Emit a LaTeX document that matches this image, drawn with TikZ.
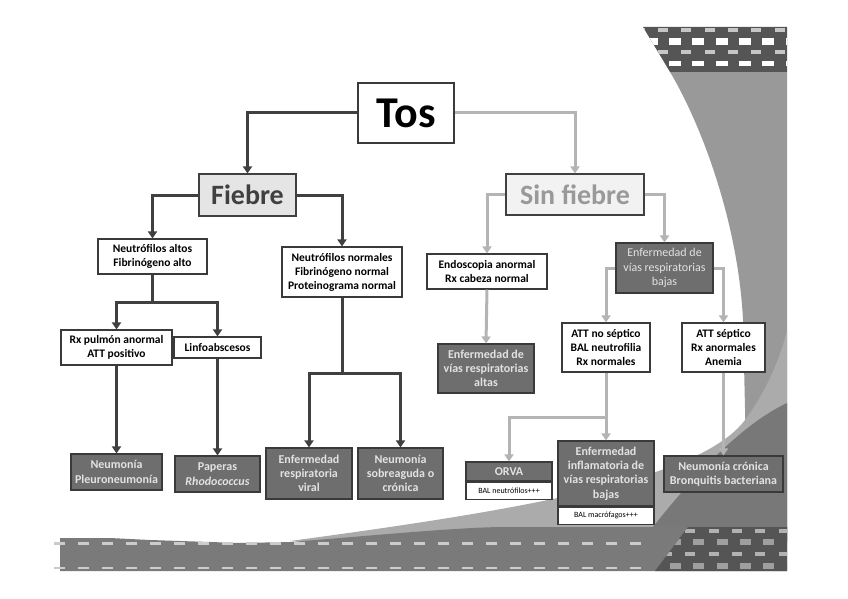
\documentclass[tikz,border=0pt]{standalone}
\usepackage{fontspec}
\setmainfont{Carlito}
\usetikzlibrary{arrows.meta}
\definecolor{bd}{HTML}{3A3A3A}
\definecolor{dk}{HTML}{6E6E6E}
\definecolor{txl}{HTML}{E2E2E2}
\definecolor{lnd}{HTML}{404040}
\definecolor{lnl}{HTML}{B4B4B4}
\definecolor{colg}{HTML}{999999}
\definecolor{lightg}{HTML}{ABABAB}
\definecolor{darkg}{HTML}{787878}
\definecolor{bandg}{HTML}{7A7A7A}
\definecolor{topg}{HTML}{555555}
\begin{document}
\begin{tikzpicture}[x=1pt,y=-1pt,
  sz/.style 2 args={minimum width=#1pt, minimum height=#2pt},
  wbox/.style={draw=bd, fill=white, line width=1.1pt, text=black, align=center, inner sep=1pt,
     font=\bfseries\fontsize{11.5}{14}\selectfont},
  dbox/.style={draw=bd, fill=dk, line width=1.1pt, text=txl, align=center, inner sep=1pt,
     font=\bfseries\fontsize{12}{14.3}\selectfont},
  subbox/.style={draw=bd, fill=white, line width=1.1pt, text=black, align=center, inner sep=1pt,
     font=\fontsize{8}{9}\selectfont},
  darkarrow/.style={draw=lnd, line width=3pt, -{Triangle[width=9pt,length=7pt]}},
  darkline/.style={draw=lnd, line width=3pt},
  lightarrow/.style={draw=lnl, line width=3pt, -{Triangle[width=9pt,length=7pt]}},
  lightline/.style={draw=lnl, line width=3pt}
]
\useasboundingbox (0,0) rectangle (848,599);

% ---------- background decoration ----------
\fill[colg] (670,72) .. controls (700,122) and (738,220) .. (743,320) -- (748,541) -- (787,541) -- (787,72) -- cycle;
\fill[lightg] (290,541) .. controls (520,510) and (700,480) .. (745,420) .. controls (765,393) and (780,360) .. (787,330) -- (787,541) -- cycle;
\fill[darkg] (653,527) .. controls (690,480) and (740,425) .. (787,403) -- (787,541) -- (653,541) -- cycle;
\fill[bandg] (60,538) -- (110,538) -- (150,540) -- (240,543) -- (290,542) .. controls (380,535) and (450,528) .. (500,527) -- (787,527) -- (787,571) -- (60,571) -- cycle;
\foreach \i in {0,...,24} {
  \fill[white!80!black] ({54+24*\i},541.5) rectangle ++(11,3);
  \fill[white!80!black] ({54+24*\i},566.5) rectangle ++(11,2.5);
}
\fill[topg] (688,527) -- (787,527) -- (787,571) -- (655,571) -- cycle;
\begin{scope}
  \clip (688,527) -- (787,527) -- (787,571) -- (655,571) -- cycle;
  \foreach \i in {0,...,5} {
    \fill[gray!60] ({662+23.3*\i},529) rectangle ++(10,4);
    \fill[gray!75] ({670+23.3*\i},539) rectangle ++(11,6);
    \fill[gray!60] ({662+23.3*\i},552) rectangle ++(10,4);
    \fill[gray!75] ({670+23.3*\i},563) rectangle ++(11,6);
  }
\end{scope}
\fill[topg] (643,27) -- (787,27) -- (787,72) -- (670,72) -- cycle;
\begin{scope}
  \clip (643,27) -- (787,27) -- (787,72) -- (670,72) -- cycle;
  \foreach \i in {-1,...,6} {
    \fill[gray!45] ({658+23.3*\i},28) rectangle ++(10,4);
    \fill[white] ({669+23.3*\i},38.5) rectangle ++(12,6.5);
    \fill[gray!45] ({658+23.3*\i},50.5) rectangle ++(10,4);
    \fill[white] ({669+23.3*\i},61) rectangle ++(12,5.5);
  }
\end{scope}

% ---------- nodes ----------
\node[draw=bd, fill=white, line width=1.1pt, sz={96}{60}, font=\bfseries\fontsize{44}{44}\selectfont] (tos) at (406,113) {Tos};
\node[draw=lnd, fill=black!10, line width=1.1pt, sz={97}{42}, text=lnd, font=\bfseries\fontsize{28}{28}\selectfont] (fiebre) at (247.5,195) {Fiebre};
\node[draw=lnd, fill=black!5, line width=1.1pt, sz={138}{41}, text=black!40, font=\bfseries\fontsize{28}{28}\selectfont] (sinf) at (575,194.5) {Sin fiebre};

\node[wbox, sz={109}{35}] (na) at (152.5,256.5) {Neutrófilos altos\\Fibrinógeno alto};
\node[wbox, sz={120}{50}] (nn) at (342,272) {Neutrófilos normales\\Fibrinógeno normal\\Proteinograma normal};
\node[wbox, sz={111}{35}] (rxp) at (116.5,347.5) {Rx pulmón anormal\\ATT positivo};
\node[wbox, sz={87}{21}] (linfo) at (217.5,347.5) {Linfoabscesos};
\node[dbox, sz={91}{36}] (neum) at (116.5,472) {Neumonía\\Pleuroneumonía};
\node[dbox, sz={85}{36}] (pap) at (217.5,474) {Paperas\\\textit{Rhodococcus}};
\node[dbox, sz={86}{51}] (erv) at (309,473.5) {Enfermedad\\respiratoria\\viral};
\node[dbox, sz={85}{51}] (nsc) at (400.5,473.5) {Neumonía\\sobreaguda o\\crónica};

\node[wbox, sz={120}{35}] (endo) at (487,271.5) {Endoscopia anormal\\Rx cabeza normal};
\node[dbox, sz={97}{50}, font=\fontsize{12}{14.3}\selectfont] (evb) at (664.5,268) {Enfermedad de\\vías respiratorias\\bajas};
\node[dbox, sz={96}{49}] (eva) at (486,368.5) {Enfermedad de\\vías respiratorias\\altas};
\node[wbox, sz={88}{49}] (attn) at (606,347.5) {ATT no séptico\\BAL neutrofilia\\Rx normales};
\node[wbox, sz={83}{49}] (atts) at (723.5,347.5) {ATT séptico\\Rx anormales\\Anemia};
\node[dbox, sz={86}{19}] (orva) at (509,471.5) {ORVA};
\node[subbox, sz={86}{17}, anchor=north] (orvasub) at (orva.south) {BAL neutrófilos+++};
\node[dbox, sz={96}{65}] (eib) at (606,473.5) {Enfermedad\\inflamatoria de\\vías respiratorias\\bajas};
\node[subbox, sz={96}{17}, anchor=north] (eibsub) at (eib.south) {BAL macrófagos+++};
\node[dbox, sz={119}{36}] (ncr) at (723.5,474) {Neumonía crónica\\Bronquitis bacteriana};

% ---------- connectors: fever branch ----------
\coordinate (j1) at (152.5,302);
\coordinate (j2) at (342,373);
\draw[darkarrow] (tos.west) -| (fiebre.north);
\draw[darkarrow] (fiebre.west) -| (na.north);
\draw[darkarrow] (fiebre.east) -| (nn.north);
\draw[darkline] (na.south) -- (j1);
\draw[darkarrow] (j1) -| (rxp.north);
\draw[darkarrow] (j1) -| (linfo.north);
\draw[darkarrow] (rxp.south) -- (neum.north);
\draw[darkarrow] (linfo.south) -- (pap.north);
\draw[darkline] (nn.south) -- (j2);
\draw[darkarrow] (j2) -| (erv.north);
\draw[darkarrow] (j2) -| (nsc.north);

% ---------- connectors: no-fever branch ----------
\coordinate (j3) at (606,417);
\draw[lightarrow] (tos.east) -| (sinf.north);
\draw[lightarrow] (sinf.west) -| (endo.north);
\draw[lightarrow] (sinf.east) -| (evb.north);
\draw[lightarrow] (endo.south) -- (eva.north);
\draw[lightarrow] (evb.west) -| (attn.north);
\draw[lightarrow] (evb.east) -| (atts.north);
\draw[lightarrow] (attn.south) -- (eib.north);
\draw[lightarrow] (j3) -| (orva.north);
\draw[lightarrow] (atts.south) -- (ncr.north);
\end{tikzpicture}
\end{document}
